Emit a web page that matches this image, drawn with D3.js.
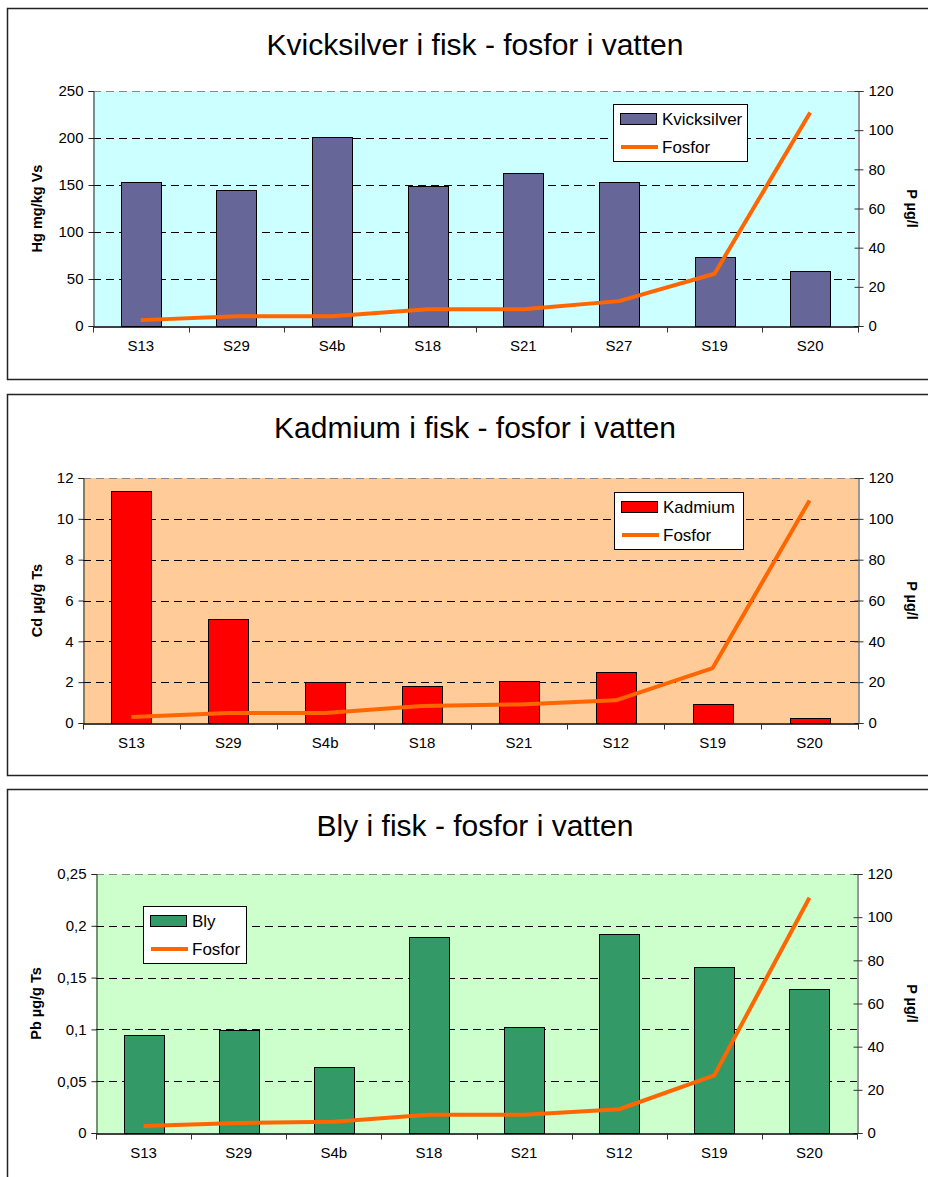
<!DOCTYPE html>
<html>
<head>
<meta charset="utf-8">
<script src="https://cdn.jsdelivr.net/npm/d3@7"></script>
<style>
  body { margin: 0; background: #fff; }
  svg { display: block; font-family: "Liberation Sans", Arial, sans-serif; }
</style>
</head>
<body>
<script>
// --- data ---
const hgSites = ["S13", "S29", "S4b", "S18", "S21", "S27", "S19", "S20"]
const hgValues = [153, 145, 201, 149, 163, 153, 73, 59]
const hgFosfor = [3, 5, 5, 8.5, 8.5, 12.7, 26.7, 109]
const hgTicks = [0, 50, 100, 150, 200, 250]
const hgTickLabels = ["0", "50", "100", "150", "200", "250"]

const cdSites = ["S13", "S29", "S4b", "S18", "S21", "S12", "S19", "S20"]
const cdValues = [11.36, 5.09, 2.02, 1.81, 2.07, 2.5, 0.91, 0.23]
const cdFosfor = [2.9, 4.9, 4.9, 8.3, 9.1, 11.1, 26.9, 109]
const cdTicks = [0, 2, 4, 6, 8, 10, 12]
const cdTickLabels = ["0", "2", "4", "6", "8", "10", "12"]

const pbSites = ["S13", "S29", "S4b", "S18", "S21", "S12", "S19", "S20"]
const pbValues = [0.095, 0.099, 0.064, 0.189, 0.102, 0.192, 0.160, 0.139]
const pbFosfor = [3.2, 4.6, 5.2, 8.5, 8.5, 11, 26.7, 109]
const pbTicks = [0, 0.05, 0.1, 0.15, 0.2, 0.25]
const pbTickLabels = ["0", "0,05", "0,1", "0,15", "0,2", "0,25"]

const pTicks = [0, 20, 40, 60, 80, 100, 120]
const pTickLabels = ["0", "20", "40", "60", "80", "100", "120"]

const svg = d3.select("body")
              .append("svg")
              .attr("width", 928)
              .attr("height", 1177)

function drawChart(c) {
  const g = svg.append("g")

  // outer frame
  g.append("rect")
   .attr("x", c.frame[0] + 0.5).attr("y", c.frame[1] + 0.5)
   .attr("width", c.frame[2]).attr("height", c.frame[3])
   .attr("fill", "#fff").attr("stroke", "#222").attr("stroke-width", 1.5)

  g.append("text")
   .attr("x", 475).attr("y", c.titleY)
   .attr("text-anchor", "middle")
   .attr("font-size", 30)
   .text(c.title)

  const [l, t, r, b] = c.plot
  const x = d3.scaleBand().domain(c.sites).range([l, r]).paddingInner(0).paddingOuter(0)
  const y = d3.scaleLinear().domain([0, c.ticks[c.ticks.length - 1]]).range([b, t])
  const y2 = d3.scaleLinear().domain([0, 120]).range([b, t])

  g.append("rect")
   .attr("x", l).attr("y", t).attr("width", r - l).attr("height", b - t)
   .attr("fill", c.bg)

  // gridlines
  g.append("g").selectAll("line")
   .data(c.ticks.slice(1))
   .join("line")
     .attr("x1", l).attr("x2", r)
     .attr("y1", d => Math.round(y(d)) + 0.5).attr("y2", d => Math.round(y(d)) + 0.5)
     .attr("stroke", (d, i) => i === c.ticks.length - 2 ? "#888" : "#000")
     .attr("stroke-dasharray", "8,5")

  // bars
  const bw = 40
  g.append("g").selectAll("rect")
   .data(c.values)
   .join("rect")
     .attr("x", (d, i) => Math.round(x(c.sites[i]) + x.bandwidth() / 2 - bw / 2) + 0.5)
     .attr("y", d => Math.round(y(d)) + 0.5)
     .attr("width", bw)
     .attr("height", d => b - Math.round(y(d)))
     .attr("fill", c.barColor)
     .attr("stroke", "#000")
     .attr("stroke-width", 1)

  // fosfor line
  const line = d3.line()
                 .x((d, i) => x(c.sites[i]) + x.bandwidth() / 2)
                 .y(d => y2(d))
  g.append("path")
   .attr("d", line(c.fosfor))
   .attr("fill", "none")
   .attr("stroke", "#FF6600")
   .attr("stroke-width", 4)
   .attr("stroke-linejoin", "round")

  // left axis
  const leftAxis = d3.axisLeft(y)
                     .tickValues(c.ticks)
                     .tickFormat((d, i) => c.tickLabels[i])
                     .tickSize(5)
                     .tickPadding(5)
  g.append("g")
   .attr("transform", `translate(${l + 0.5},0)`)
   .call(leftAxis)
   .call(a => a.selectAll("text").attr("font-size", 15).attr("fill", "#000").attr("font-family", null))
   .call(a => a.selectAll("line, path").attr("stroke", "#222"))

  // right axis
  const rightAxis = d3.axisRight(y2)
                      .tickValues(pTicks)
                      .tickFormat((d, i) => pTickLabels[i])
                      .tickSize(5)
                      .tickPadding(5)
  g.append("g")
   .attr("transform", `translate(${r + 0.5},0)`)
   .call(rightAxis)
   .call(a => a.selectAll("text").attr("font-size", 15).attr("fill", "#000").attr("font-family", null))
   .call(a => a.selectAll("line, path").attr("stroke", "#333"))
   .call(a => a.selectAll(".tick line").attr("x1", -4))

  // bottom axis
  const xAxis = d3.axisBottom(x).tickSize(0).tickPadding(14)
  const gx = g.append("g")
              .attr("transform", `translate(0,${b + 0.5})`)
              .call(xAxis)
  gx.selectAll("text").attr("font-size", 15).attr("fill", "#000").attr("font-family", null)
  gx.select(".domain").attr("stroke", "#000").attr("stroke-width", 1.5)
  gx.append("g").selectAll("line")
    .data(d3.range(c.sites.length + 1))
    .join("line")
      .attr("x1", i => Math.round(l + i * x.bandwidth()) + 0.5)
      .attr("x2", i => Math.round(l + i * x.bandwidth()) + 0.5)
      .attr("y1", 0).attr("y2", 6)
      .attr("stroke", "#333")

  // axis titles
  g.append("text")
   .attr("transform", `translate(${c.leftTitleX},${(t + b) / 2}) rotate(-90)`)
   .attr("text-anchor", "middle")
   .attr("font-size", 14.5).attr("font-weight", "bold")
   .text(c.leftTitle)
  g.append("text")
   .attr("transform", `translate(907,${(t + b) / 2}) rotate(90)`)
   .attr("text-anchor", "middle")
   .attr("font-size", 14.5).attr("font-weight", "bold")
   .text("P µg/l")

  // legend
  const [lx, ly, lw, lh] = c.legend
  const lg = g.append("g").attr("transform", `translate(${lx},${ly})`)
  lg.append("rect")
    .attr("x", 0.5).attr("y", 0.5).attr("width", lw).attr("height", lh)
    .attr("fill", "#fff").attr("stroke", "#000")
  lg.append("rect")
    .attr("x", 7.5).attr("y", 9.5).attr("width", 36).attr("height", 11)
    .attr("fill", c.barColor).attr("stroke", "#000")
  lg.append("text")
    .attr("x", 49).attr("y", 21)
    .attr("font-size", 17)
    .text(c.seriesName)
  lg.append("line")
    .attr("x1", 8).attr("x2", 45).attr("y1", 43).attr("y2", 43)
    .attr("stroke", "#FF6600").attr("stroke-width", 4)
  lg.append("text")
    .attr("x", 49).attr("y", 49)
    .attr("font-size", 17)
    .text("Fosfor")
}

drawChart({
  title: "Kvicksilver i fisk - fosfor i vatten", titleY: 55,
  sites: hgSites, values: hgValues, fosfor: hgFosfor,
  ticks: hgTicks, tickLabels: hgTickLabels,
  leftTitle: "Hg mg/kg Vs", leftTitleX: 42, seriesName: "Kvicksilver",
  barColor: "#666699", bg: "#CCFFFF",
  frame: [7, 8, 940, 371], plot: [93, 91, 858, 326], legend: [613, 104, 134, 57]
})

drawChart({
  title: "Kadmium i fisk - fosfor i vatten", titleY: 438,
  sites: cdSites, values: cdValues, fosfor: cdFosfor,
  ticks: cdTicks, tickLabels: cdTickLabels,
  leftTitle: "Cd µg/g Ts", leftTitleX: 42, seriesName: "Kadmium",
  barColor: "#FF0000", bg: "#FFCC99",
  frame: [7, 394, 940, 381], plot: [83, 478, 858, 723], legend: [614, 492, 129, 57]
})

drawChart({
  title: "Bly i fisk - fosfor i vatten", titleY: 836,
  sites: pbSites, values: pbValues, fosfor: pbFosfor,
  ticks: pbTicks, tickLabels: pbTickLabels,
  leftTitle: "Pb µg/g Ts", leftTitleX: 41, seriesName: "Bly",
  barColor: "#339966", bg: "#CCFFCC",
  frame: [7, 789, 940, 420], plot: [96, 874, 857, 1133], legend: [143, 906, 103, 57]
})
</script>
</body>
</html>
